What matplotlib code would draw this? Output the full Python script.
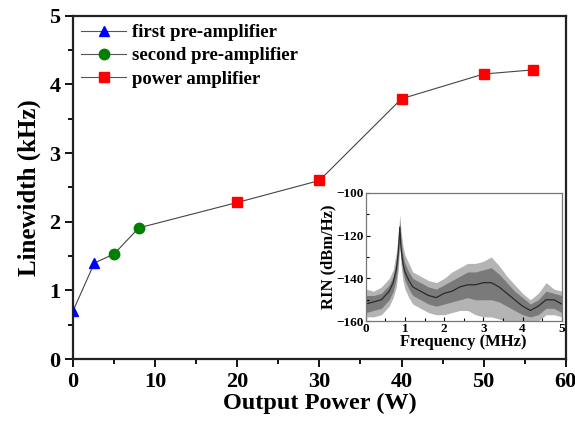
import numpy as np
import matplotlib
matplotlib.use('Agg')
import matplotlib.pyplot as plt
from matplotlib.ticker import MultipleLocator

plt.rcParams['font.family'] = ['Liberation Serif', 'DejaVu Serif']
plt.rcParams['font.weight'] = 'bold'

# main data: linewidth vs output power
p_first = [0.0, 2.6]
lw_first = [0.70, 1.40]
p_second = [5.0, 8.0]
lw_second = [1.53, 1.91]
p_power = [20.0, 30.0, 40.0, 50.0, 56.0]
lw_power = [2.28, 2.60, 3.79, 4.15, 4.21]

# inset: RIN spectrum, read as centre line, core band and outer envelope
f_rin = [0.0, 0.2, 0.4, 0.6, 0.7, 0.78, 0.83, 0.87, 0.9, 0.95, 1.0, 1.1, 1.2,
         1.4, 1.6, 1.8, 2.0, 2.2, 2.4, 2.6, 2.8, 3.0, 3.2, 3.4, 3.6, 3.8,
         4.0, 4.2, 4.4, 4.6, 4.8, 5.0]
rin_mid = [-152, -151, -150, -146, -142, -136, -128, -116, -126, -133, -137,
           -141, -144, -146, -148, -149, -147, -146, -144, -143, -143, -142,
           -142, -144, -147, -150, -153, -155, -153, -150, -150, -152]
rin_hi = [-145, -146, -144, -140, -136, -128, -120, -110, -118, -125, -129,
          -133, -137, -139, -141, -142, -140, -137, -135, -133, -133, -132,
          -130, -134, -139, -143, -147, -150, -147, -142, -145, -146]
rin_lo = [-158, -158, -157, -153, -149, -144, -136, -124, -134, -141, -145,
          -149, -152, -154, -156, -157, -157, -156, -155, -155, -157, -158,
          -158, -159, -160, -160, -160, -160, -160, -157, -157, -158]
core_hi = [-148, -148, -147, -143, -139, -132, -124, -113, -122, -129, -133,
           -137, -140, -142, -144, -145, -143, -141, -139, -137, -137, -136,
           -135, -138, -142, -146, -149, -152, -150, -146, -147, -148]
core_lo = [-156, -155, -154, -150, -146, -140, -132, -120, -130, -137, -141,
           -145, -148, -150, -152, -153, -152, -151, -150, -149, -150, -150,
           -150, -151, -153, -155, -157, -158, -157, -154, -154, -156]

fig = plt.figure(figsize=(5.75, 4.22), dpi=100)
ax = fig.add_axes([0.127, 0.149, 0.857, 0.814])

p_all = p_first + p_second + p_power
lw_all = lw_first + lw_second + lw_power
ax.plot(p_all, lw_all, '-', color='#444444', lw=0.8, zorder=2)

ax.plot(p_first, lw_first, '^', color='blue', ms=7, zorder=3)
ax.plot(p_second, lw_second, 'o', color='green', ms=7.5, zorder=3)
ax.plot(p_power, lw_power, 's', color='red', ms=6.5, zorder=3)

# legend handles with the grey line through the marker
h1, = ax.plot([], [], '-^', color='#555555', mfc='blue', mec='blue', lw=0.8, ms=7)
h2, = ax.plot([], [], '-o', color='#555555', mfc='green', mec='green', lw=0.8, ms=7.5)
h3, = ax.plot([], [], '-s', color='#555555', mfc='red', mec='red', lw=0.8, ms=6.5)
ax.legend([h1, h2, h3], ['first pre-amplifier', 'second pre-amplifier', 'power amplifier'],
          loc='upper left', frameon=False, fontsize=13.5, handlelength=2.4,
          borderaxespad=0.15, labelspacing=0.33, handletextpad=0.3,
          borderpad=0.3)

ax.set_xlim(0, 60)
ax.set_ylim(0, 5)
ax.xaxis.set_major_locator(MultipleLocator(10))
ax.xaxis.set_minor_locator(MultipleLocator(5))
ax.yaxis.set_major_locator(MultipleLocator(1))
ax.yaxis.set_minor_locator(MultipleLocator(0.5))
ax.tick_params(which='both', direction='out', labelsize=16, width=1.3, pad=3)
ax.tick_params(which='major', length=6)
ax.tick_params(which='minor', length=3.5)
for s in ax.spines.values():
    s.set_linewidth(1.6)
    s.set_color('#222222')
ax.set_xlabel('Output Power (W)', fontsize=17.5, fontweight='bold', labelpad=1)
ax.set_ylabel('Linewidth (kHz)', fontsize=18, fontweight='bold', labelpad=6)

# inset
axi = fig.add_axes([0.636, 0.239, 0.341, 0.304])
axi.fill_between(f_rin, rin_lo, rin_hi, color='#b4b4b4', lw=0)
axi.fill_between(f_rin, core_lo, core_hi, color='#7a7a7a', lw=0)
axi.plot(f_rin, rin_mid, color='#2a2a2a', lw=0.9)
axi.set_xlim(0, 5)
axi.set_ylim(-160, -100)
axi.xaxis.set_major_locator(MultipleLocator(1))
axi.xaxis.set_minor_locator(MultipleLocator(0.5))
axi.yaxis.set_major_locator(MultipleLocator(20))
axi.yaxis.set_minor_locator(MultipleLocator(10))
axi.tick_params(which='both', direction='in', labelsize=9.5, width=0.8, pad=1.5)
axi.tick_params(which='major', length=3)
axi.tick_params(which='minor', length=2)
for s in axi.spines.values():
    s.set_linewidth(0.9)
    s.set_color('#777777')
axi.set_xlabel('Frequency (MHz)', fontsize=12, fontweight='bold', labelpad=-1)
axi.set_ylabel('RIN (dBm/Hz)', fontsize=12, fontweight='bold', labelpad=0)

fig.savefig('out.png', dpi=100)
